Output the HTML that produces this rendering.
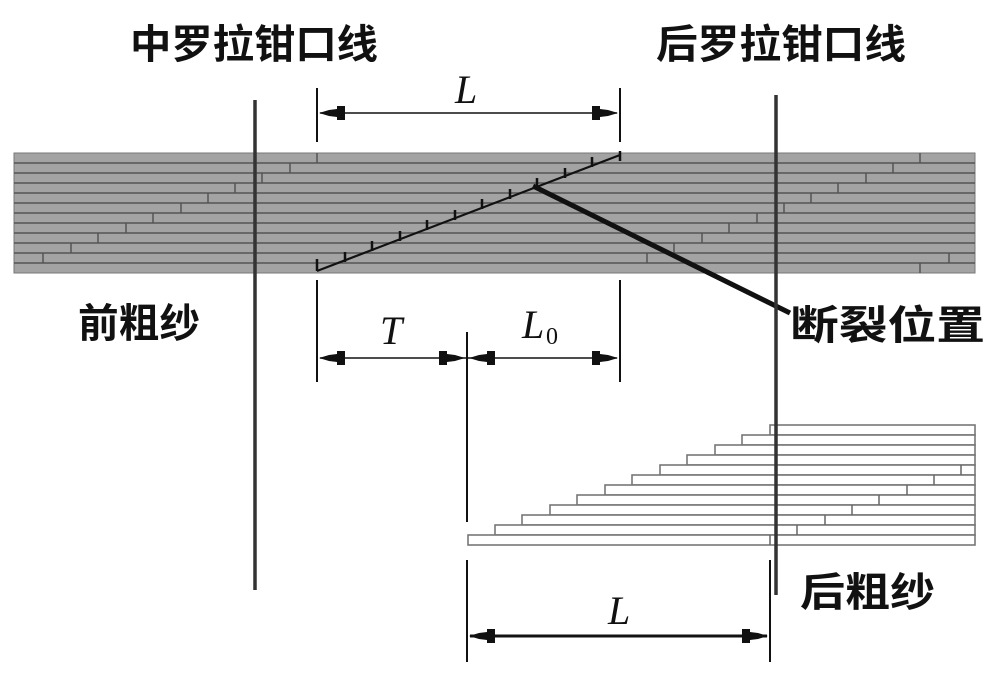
<!DOCTYPE html>
<html><head><meta charset="utf-8"><style>
html,body{margin:0;padding:0;background:#fff;}
svg{display:block}
.cn{font-family:"Liberation Sans","Noto Sans CJK SC",sans-serif;font-size:40px;font-weight:bold;fill:#111;}
.it{font-family:"Liberation Serif",serif;font-style:italic;font-size:40px;fill:#111;}
</style></head><body>
<svg width="1000" height="674" viewBox="0 0 1000 674" xmlns="http://www.w3.org/2000/svg">
<defs>
<g id="ah"><polygon points="0,0 10,-3 18,-4 18,-7 26,-7 26,7 18,7 18,4 10,3" fill="#111"/></g>
</defs>
<!-- top band -->
<rect x="14" y="153" width="961" height="120" fill="#a3a3a3" stroke="#777" stroke-width="1"/>
<g stroke="#555" stroke-width="1.6">
<line x1="14" y1="163" x2="975" y2="163"/><line x1="14" y1="173" x2="975" y2="173"/>
<line x1="14" y1="183" x2="975" y2="183"/><line x1="14" y1="193" x2="975" y2="193"/>
<line x1="14" y1="203" x2="975" y2="203"/><line x1="14" y1="213" x2="975" y2="213"/>
<line x1="14" y1="223" x2="975" y2="223"/><line x1="14" y1="233" x2="975" y2="233"/>
<line x1="14" y1="243" x2="975" y2="243"/><line x1="14" y1="253" x2="975" y2="253"/>
<line x1="14" y1="263" x2="975" y2="263"/>
</g>
<g stroke="#555" stroke-width="1.5">
<line x1="317" y1="153" x2="317" y2="163"/><line x1="290" y1="163" x2="290" y2="173"/>
<line x1="262" y1="173" x2="262" y2="183"/><line x1="235" y1="183" x2="235" y2="193"/>
<line x1="208" y1="193" x2="208" y2="203"/><line x1="181" y1="203" x2="181" y2="213"/>
<line x1="153" y1="213" x2="153" y2="223"/><line x1="126" y1="223" x2="126" y2="233"/>
<line x1="98" y1="233" x2="98" y2="243"/><line x1="71" y1="243" x2="71" y2="253"/>
<line x1="43" y1="253" x2="43" y2="263"/>
<line x1="920" y1="153" x2="920" y2="163"/><line x1="893" y1="163" x2="893" y2="173"/>
<line x1="866" y1="173" x2="866" y2="183"/><line x1="838" y1="183" x2="838" y2="193"/>
<line x1="811" y1="193" x2="811" y2="203"/><line x1="784" y1="203" x2="784" y2="213"/>
<line x1="757" y1="213" x2="757" y2="223"/><line x1="729" y1="223" x2="729" y2="233"/>
<line x1="702" y1="233" x2="702" y2="243"/><line x1="674" y1="243" x2="674" y2="253"/>
<line x1="647" y1="253" x2="647" y2="263"/><line x1="949" y1="253" x2="949" y2="263"/>
<line x1="920" y1="263" x2="920" y2="273"/>
</g>
<!-- diagonal -->
<line x1="317" y1="271" x2="620" y2="155" stroke="#111" stroke-width="2.2"/>
<g stroke="#111" stroke-width="2.5">
<line x1="317" y1="259" x2="317" y2="271"/><line x1="345" y1="252" x2="345" y2="262"/>
<line x1="372" y1="241" x2="372" y2="251"/><line x1="400" y1="231" x2="400" y2="241"/>
<line x1="427" y1="220" x2="427" y2="230"/><line x1="455" y1="210" x2="455" y2="220"/>
<line x1="482" y1="199" x2="482" y2="209"/><line x1="510" y1="189" x2="510" y2="199"/>
<line x1="537" y1="178" x2="537" y2="188"/><line x1="565" y1="168" x2="565" y2="178"/>
<line x1="592" y1="157" x2="592" y2="167"/><line x1="620" y1="151" x2="620" y2="161"/>
</g>
<line x1="533" y1="186" x2="790" y2="313" stroke="#111" stroke-width="5"/>
<!-- bottom staircase -->
<g fill="#fff" stroke="#777" stroke-width="1.6">
<rect x="770" y="425" width="205" height="10"/><rect x="742" y="435" width="233" height="10"/>
<rect x="715" y="445" width="260" height="10"/><rect x="687" y="455" width="288" height="10"/>
<rect x="660" y="465" width="315" height="10"/><rect x="632" y="475" width="343" height="10"/>
<rect x="605" y="485" width="370" height="10"/><rect x="577" y="495" width="398" height="10"/>
<rect x="550" y="505" width="425" height="10"/><rect x="522" y="515" width="453" height="10"/>
<rect x="495" y="525" width="480" height="10"/><rect x="468" y="535" width="507" height="10"/>
</g>
<g stroke="#666" stroke-width="1.5">
<line x1="961" y1="465" x2="961" y2="475"/><line x1="934" y1="475" x2="934" y2="485"/>
<line x1="907" y1="485" x2="907" y2="495"/><line x1="879" y1="495" x2="879" y2="505"/>
<line x1="852" y1="505" x2="852" y2="515"/><line x1="825" y1="515" x2="825" y2="525"/>
<line x1="797" y1="525" x2="797" y2="535"/><line x1="770" y1="535" x2="770" y2="545"/>
</g>
<!-- nip lines -->
<line x1="255" y1="100" x2="255" y2="590" stroke="#333" stroke-width="3.5"/>
<line x1="776" y1="95" x2="776" y2="595" stroke="#333" stroke-width="3.5"/>
<!-- dimension lines -->
<g stroke="#111" stroke-width="2">
<line x1="317" y1="88" x2="317" y2="142"/><line x1="620" y1="88" x2="620" y2="142"/>
<line x1="317" y1="280" x2="317" y2="382"/><line x1="620" y1="280" x2="620" y2="382"/>
<line x1="467" y1="332" x2="467" y2="522"/>
<line x1="467" y1="560" x2="467" y2="662"/><line x1="770" y1="560" x2="770" y2="662"/>
</g>
<line x1="320" y1="113" x2="617" y2="113" stroke="#111" stroke-width="1.5"/>
<line x1="320" y1="358" x2="617" y2="358" stroke="#111" stroke-width="1.5"/>
<line x1="470" y1="636" x2="767" y2="636" stroke="#111" stroke-width="3"/>
<use href="#ah" transform="translate(319,113)"/><use href="#ah" transform="translate(618,113) scale(-1,1)"/>
<use href="#ah" transform="translate(319,358)"/><use href="#ah" transform="translate(465,358) scale(-1,1)"/>
<use href="#ah" transform="translate(469,358)"/><use href="#ah" transform="translate(618,358) scale(-1,1)"/>
<use href="#ah" transform="translate(469,636)"/><use href="#ah" transform="translate(768,636) scale(-1,1)"/>
<!-- labels -->
<text class="cn" x="130" y="58" textLength="248" lengthAdjust="spacingAndGlyphs">中罗拉钳口线</text>
<text class="cn" x="656" y="58" textLength="250" lengthAdjust="spacingAndGlyphs">后罗拉钳口线</text>
<text class="cn" x="78" y="337" textLength="122" lengthAdjust="spacingAndGlyphs">前粗纱</text>
<text class="cn" x="790" y="339" textLength="195" lengthAdjust="spacingAndGlyphs">断裂位置</text>
<text class="cn" x="800" y="606" textLength="135" lengthAdjust="spacingAndGlyphs">后粗纱</text>
<text class="it" x="455" y="103">L</text>
<text class="it" x="380" y="344">T</text>
<text class="it" x="522" y="338">L</text>
<text style="font-family:'Liberation Serif',serif;font-size:24px" x="546" y="344" fill="#111">0</text>
<text class="it" x="608" y="624">L</text>
</svg>
</body></html>
